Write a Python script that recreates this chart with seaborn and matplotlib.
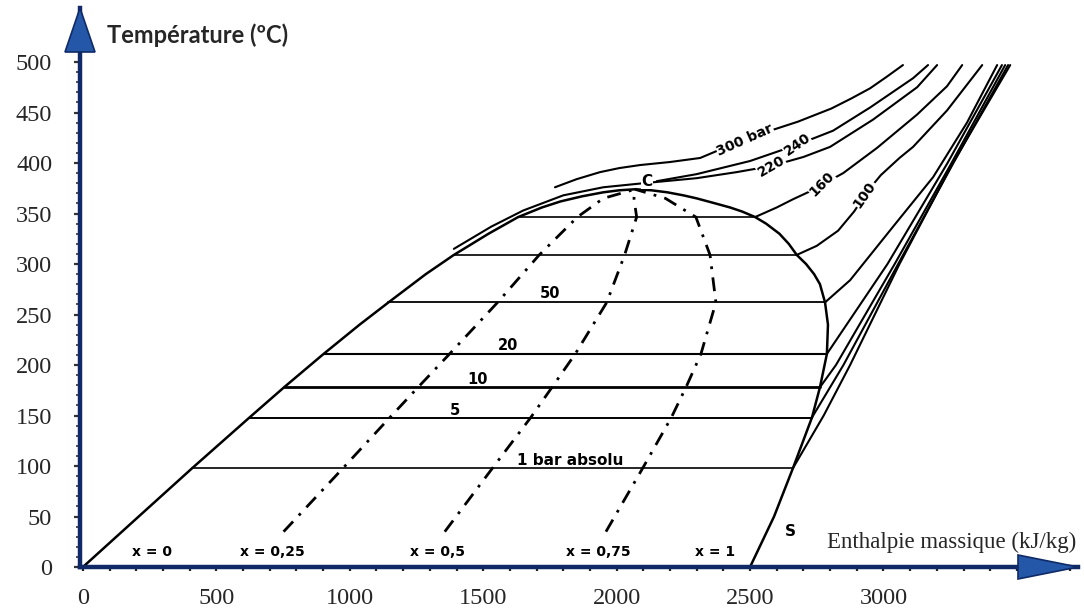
import matplotlib
matplotlib.use("Agg")
import matplotlib.pyplot as plt
from matplotlib.patches import Polygon
import seaborn as sns

# --- saturation dome (h in kJ/kg, T in degC) ---
liq_T = [0, 50, 98, 148, 178, 211, 240, 262, 290, 309, 330, 346.5, 356, 362, 367, 371, 373, 374]
liq_h = [0, 209, 410, 624, 754, 902, 1037, 1145, 1285, 1390, 1520, 1631, 1720, 1790, 1870, 1950, 2010, 2069]
vap_T = [374, 373, 371, 368, 365, 360, 356, 352, 346.5, 340, 330, 320, 309, 300, 290, 280, 262, 240, 211, 178, 148, 98, 50, 0]
vap_h = [2069, 2130, 2190, 2250, 2300, 2370, 2425, 2470, 2519, 2560, 2610, 2645, 2675, 2710, 2740, 2762, 2781, 2792, 2788, 2762, 2732, 2661, 2590, 2500]

# --- isobars inside the dome ---
iso_T = [98, 148, 178, 211, 262, 309, 346.5]
iso_h_liq = [410, 624, 754, 902, 1145, 1390, 1631]
iso_h_vap = [2661, 2732, 2762, 2788, 2781, 2675, 2519]
iso_lw = [1.2, 1.4, 2.0, 1.5, 1.3, 1.2, 1.2]
iso_labels = ["1 bar absolu", "5", "10", "20", "50"]
iso_label_h = [1825, 1394, 1480, 1593, 1750]
iso_label_T = [105, 155, 186, 219, 271]
iso_label_size = [11, 10.5, 10.5, 10.5, 10.5]

# --- quality lines x = 0.25 / 0.5 / 0.75 ---
q_T = [35, 98, 148, 178, 211, 262, 309, 346.5, 365, 374]
q_h_025 = [752, 975, 1150, 1256, 1374, 1554, 1710, 1853, 1950, 2069]
q_h_050 = [1356, 1535, 1678, 1758, 1845, 1963, 2030, 2075, 2065, 2069]
q_h_075 = [1960, 2098, 2205, 2260, 2316, 2372, 2350, 2297, 2183, 2069]
q_labels = ["x = 0", "x = 0,25", "x = 0,5", "x = 0,75", "x = 1"]
q_label_h = [259, 709, 1330, 1930, 2369]

# --- superheated / supercritical isobars ---
sh_1_h = [2661, 2776, 2875, 3060, 3260, 3475]
sh_1_T = [98, 150, 200, 300, 400, 497]
sh_5_h = [2732, 2850, 3055, 3262, 3467]
sh_5_T = [148, 200, 300, 400, 497]
sh_10_h = [2762, 2822, 3042, 3255, 3456]
sh_10_T = [178, 200, 300, 400, 497]
sh_20_h = [2788, 3015, 3240, 3444]
sh_20_T = [211, 300, 400, 497]
sh_50_h = [2781, 2875, 3036, 3186, 3313, 3426]
sh_50_T = [262, 284, 337, 386, 440, 497]
sh_100_h = [2675, 2750, 2830, 2890, 2940, 2990, 3060, 3111, 3238, 3370]
sh_100_T = [309, 318, 333, 352, 372, 388, 405, 416, 452, 497]
sh_160_h = [2519, 2600, 2660, 2725, 2849, 2976, 3126, 3238, 3295]
sh_160_T = [346.5, 356, 364, 372, 390, 415, 448, 476, 497]
sh_220_h = [1390, 1530, 1650, 1800, 1950, 2100, 2300, 2450, 2579, 2700, 2800, 2961, 3126, 3201]
sh_220_T = [315, 337, 353, 368, 376, 380, 385, 391, 397, 406, 416, 443, 475, 497]
sh_240_h = [2150, 2300, 2500, 2676, 2811, 2950, 3111, 3167]
sh_240_T = [382, 389, 402, 418, 432, 455, 484, 497]
sh_300_h = [1769, 1850, 1938, 2010, 2088, 2200, 2313, 2430, 2480, 2564, 2680, 2805, 2880, 2950, 3010, 3073]
sh_300_T = [376, 384, 391, 395, 398, 401, 405, 418, 423, 431, 441, 454, 464, 474, 485, 497]

sh_labels = ["300 bar", "240", "220", "160", "100"]
sh_label_h = [2481, 2676, 2579, 2770, 2930]
sh_label_T = [423, 418, 397, 379, 369]
sh_label_rot = [24, 35, 30, 45, 55]

x_ticks = [0, 500, 1000, 1500, 2000, 2500, 3000]
y_ticks = [0, 50, 100, 150, 200, 250, 300, 350, 400, 450, 500]

NAVY = "#0f2a66"
BLUE = "#2457a8"

sns.set_theme(style="white")
plt.rcParams["font.family"] = ["DejaVu Sans"]

W, H = 1084, 609
fig = plt.figure(figsize=(W / 100, H / 100), dpi=100)
# axis arrows: origin at pixel (80, 567), arrow tips at x=1078 and y=8
x0, x1, y0, y1 = 80, 1078, 567, 8
ax = fig.add_axes([x0 / W, 1 - y0 / H, (x1 - x0) / W, (y0 - y1) / H])


def curve(h, T, lw=1.5, **kw):
    sns.lineplot(x=h, y=T, sort=False, estimator=None, ax=ax,
                 color="black", linewidth=lw, **kw)


# dome: liquid line up to C, vapour line back down to S
curve(liq_h + vap_h, liq_T + vap_T, lw=1.8)

for T, hl, hv, lw in zip(iso_T, iso_h_liq, iso_h_vap, iso_lw):
    curve([hl, hv], [T, T], lw=lw)

dash_dot = (0, (5, 3, 1, 3))
for qh in (q_h_025, q_h_050, q_h_075):
    curve(qh, q_T, lw=2.0, linestyle=dash_dot)

for h, T in [(sh_1_h, sh_1_T), (sh_5_h, sh_5_T), (sh_10_h, sh_10_T),
             (sh_20_h, sh_20_T), (sh_50_h, sh_50_T), (sh_100_h, sh_100_T),
             (sh_160_h, sh_160_T), (sh_220_h, sh_220_T),
             (sh_240_h, sh_240_T), (sh_300_h, sh_300_T)]:
    curve(h, T, lw=1.5)

lbl = dict(fontweight="bold", color="black", ha="center", va="center")
white = dict(facecolor="white", edgecolor="none", pad=0.3)
for s, h, T, fs in zip(iso_labels, iso_label_h, iso_label_T, iso_label_size):
    ax.text(h, T, s, fontsize=fs, **lbl)
for s, h in zip(q_labels, q_label_h):
    ax.text(h, 15, s, fontsize=10, **lbl)
for s, h, T, r in zip(sh_labels, sh_label_h, sh_label_T, sh_label_rot):
    ax.text(h, T, s, rotation=r, bbox=white, fontsize=10, **lbl)
ax.text(2114, 382, "C", fontsize=11, bbox=white, **lbl)
ax.text(2650, 35, "S", fontsize=11, **lbl)

ax.set_xlim(-11, 3729)
ax.set_ylim(0, 553.5)

ax.set_xticks(x_ticks)
ax.set_xticklabels([str(v) for v in x_ticks])
ax.set_xticks(range(0, 3701, 100), minor=True)
ax.set_yticks(y_ticks)
ax.set_yticklabels([str(v) for v in y_ticks])
ax.set_yticks(range(0, 501, 10), minor=True)
for t in ax.get_xticklabels() + ax.get_yticklabels():
    t.set_fontfamily("Liberation Serif")
    t.set_fontsize(17.5)
ax.tick_params(axis="x", which="both", bottom=True, direction="out", length=3,
               width=1.6, color="#222222", pad=12)
ax.tick_params(axis="y", which="both", left=True, direction="out", length=3,
               width=1.2, color="#333333", pad=16)
ax.tick_params(axis="y", which="major", length=4, width=1.6)

for side in ("top", "right"):
    ax.spines[side].set_visible(False)
for side in ("left", "bottom"):
    ax.spines[side].set_color(NAVY)
    ax.spines[side].set_linewidth(3.2)
    ax.spines[side].set_zorder(5)

aw, ah = x1 - x0, y0 - y1
head_y = Polygon([(0, 1), (-15 / aw, 1 - 44 / ah), (15 / aw, 1 - 44 / ah)],
                 closed=True, transform=ax.transAxes, clip_on=False,
                 facecolor=BLUE, edgecolor=NAVY, lw=1.2, zorder=6)
head_x = Polygon([(1, 0), (1 - 60 / aw, 12 / ah), (1 - 60 / aw, -12 / ah)],
                 closed=True, transform=ax.transAxes, clip_on=False,
                 facecolor=BLUE, edgecolor=NAVY, lw=1.2, zorder=6)
ax.add_patch(head_y)
ax.add_patch(head_x)

ax.text(90, 527, "Température (ºC)", fontfamily="Lato", fontweight="bold",
        fontsize=17, ha="left", va="center", clip_on=False)
ax.text(2789, 24, "Enthalpie massique (kJ/kg)", fontfamily="Liberation Serif",
        fontsize=16.5, ha="left", va="center", clip_on=False)

fig.savefig("out.png", dpi=100)
